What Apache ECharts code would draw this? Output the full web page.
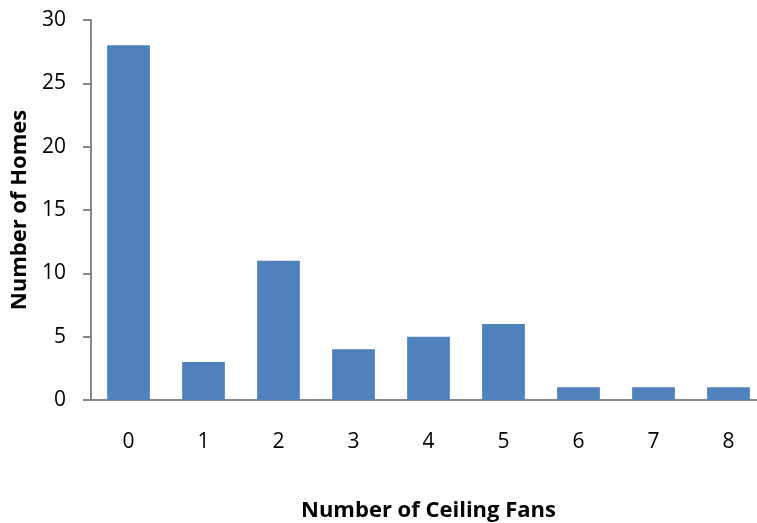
<!DOCTYPE html>
<html>
<head>
<meta charset="utf-8">
<script src="https://cdn.jsdelivr.net/npm/echarts@6/dist/echarts.min.js"></script>
<style>
  html, body { margin: 0; padding: 0; background: #fff; }
  #chart { width: 757px; height: 523px; }
</style>
</head>
<body>
<div id="chart"></div>
<script>
// Number of ceiling fans per home (histogram counts)
const fanCounts = ['0', '1', '2', '3', '4', '5', '6', '7', '8'];
const homes = [28, 3, 11, 4, 5, 6, 1, 1, 1];
const yTicks = [0, 5, 10, 15, 20, 25, 30];

const FONT = '"Open Sans", Lato, sans-serif';
const chart = echarts.init(document.getElementById('chart'), null, { renderer: 'canvas' });

chart.setOption({
  animation: false,
  grid: { left: 91, top: 20, width: 675, height: 380, containLabel: false, outerBoundsMode: 'none' },
  xAxis: {
    type: 'category',
    data: fanCounts,
    name: 'Number of Ceiling Fans',
    nameLocation: 'middle',
    nameGap: 100,
    nameTextStyle: { fontFamily: FONT, fontWeight: 'bold', fontSize: 22, color: '#000' },
    axisLine: { lineStyle: { color: '#868686', width: 2 } },
    axisTick: { show: false },
    axisLabel: { fontFamily: FONT, fontSize: 21, color: '#000', margin: 32 }
  },
  yAxis: {
    type: 'value',
    min: yTicks[0],
    max: yTicks[yTicks.length - 1],
    interval: 5,
    name: 'Number of Homes',
    nameLocation: 'middle',
    nameGap: 55,
    nameTextStyle: { fontFamily: FONT, fontWeight: 'bold', fontSize: 22, color: '#000' },
    axisLine: { show: true, lineStyle: { color: '#868686', width: 2 } },
    axisTick: { show: true, length: 8, lineStyle: { color: '#868686', width: 2 } },
    axisLabel: { fontFamily: FONT, fontSize: 21, color: '#000', margin: 25 },
    splitLine: { show: false }
  },
  series: [{
    type: 'bar',
    data: homes,
    barWidth: '57%',
    itemStyle: { color: '#4F81BD' }
  }]
});
</script>
</body>
</html>
